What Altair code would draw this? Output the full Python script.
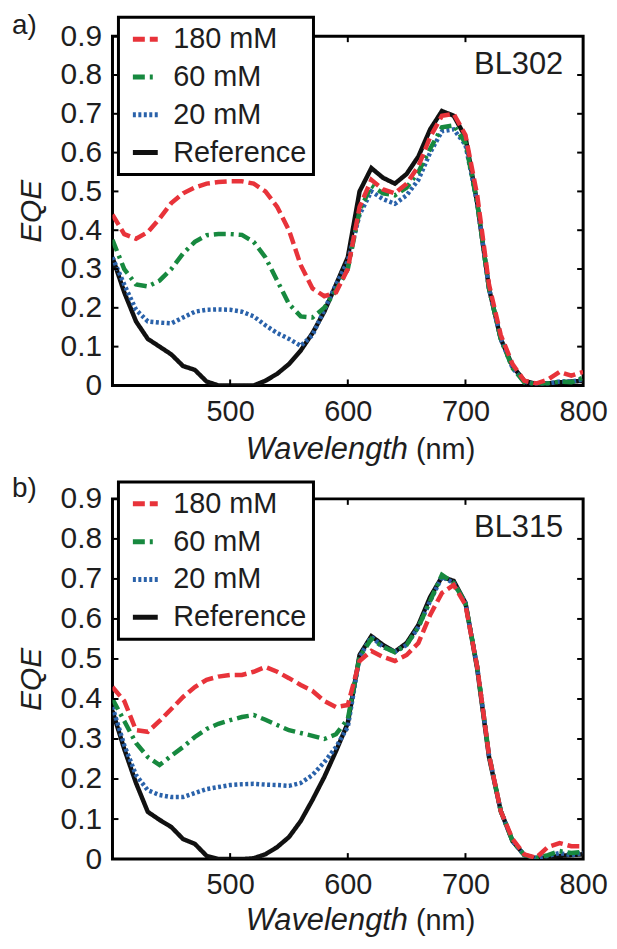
import altair as alt
import pandas as pd

# ---------------- data ----------------
wavelength = list(range(400, 801, 10))
series_order = ["180 mM", "60 mM", "20 mM", "Reference"]
draw_order = ["Reference", "20 mM", "60 mM", "180 mM"]
series_colors = ["#e8333a", "#17893f", "#2a62aa", "#111111"]
series_dash = [[12, 5], [12, 5, 3, 5], [3, 2.5], [1, 0]]

# panel a) BL302
a_180 = [0.44, 0.39, 0.378, 0.395, 0.43, 0.47, 0.495, 0.51, 0.52, 0.524, 0.526,
         0.526, 0.52, 0.50, 0.46, 0.40, 0.31, 0.25, 0.23, 0.24, 0.30,
         0.46, 0.53, 0.505, 0.495, 0.52, 0.565, 0.64, 0.695, 0.70, 0.645,
         0.49, 0.26, 0.13, 0.055, 0.012, 0.005, 0.015, 0.035, 0.025, 0.035]
a_60 = [0.375, 0.30, 0.26, 0.255, 0.27, 0.30, 0.34, 0.37, 0.387, 0.39, 0.39,
        0.388, 0.37, 0.33, 0.27, 0.21, 0.178, 0.175, 0.20, 0.245, 0.30,
        0.45, 0.515, 0.495, 0.49, 0.51, 0.55, 0.61, 0.665, 0.67, 0.625,
        0.47, 0.25, 0.12, 0.045, 0.008, 0.003, 0.005, 0.01, 0.008, 0.02]
a_20 = [0.33, 0.26, 0.195, 0.165, 0.162, 0.16, 0.175, 0.19, 0.195, 0.196, 0.195,
        0.19, 0.178, 0.155, 0.135, 0.12, 0.102, 0.13, 0.195, 0.26, 0.32,
        0.44, 0.50, 0.48, 0.468, 0.49, 0.53, 0.60, 0.655, 0.66, 0.62,
        0.47, 0.25, 0.12, 0.045, 0.01, 0.003, 0.005, 0.01, 0.01, 0.015]
a_ref = [0.33, 0.24, 0.165, 0.12, 0.10, 0.08, 0.05, 0.04, 0.01, 0.0, 0.0,
         0.0, 0.0, 0.012, 0.03, 0.055, 0.09, 0.135, 0.19, 0.26, 0.33,
         0.50, 0.56, 0.535, 0.52, 0.545, 0.59, 0.66, 0.707, 0.695, 0.64,
         0.47, 0.25, 0.12, 0.05, 0.012, 0.004, 0.005, 0.008, 0.01, 0.012]

# panel b) BL315
b_180 = [0.43, 0.395, 0.322, 0.318, 0.345, 0.375, 0.405, 0.43, 0.448, 0.456, 0.46,
         0.46, 0.468, 0.48, 0.468, 0.452, 0.435, 0.42, 0.395, 0.38, 0.385,
         0.495, 0.52, 0.505, 0.495, 0.51, 0.54, 0.61, 0.665, 0.685, 0.635,
         0.48, 0.26, 0.12, 0.05, 0.012, 0.003, 0.03, 0.04, 0.032, 0.032]
b_60 = [0.40, 0.345, 0.29, 0.255, 0.235, 0.258, 0.28, 0.305, 0.325, 0.338, 0.347,
        0.355, 0.36, 0.348, 0.335, 0.322, 0.315, 0.308, 0.30, 0.312, 0.35,
        0.505, 0.55, 0.53, 0.517, 0.535, 0.58, 0.645, 0.71, 0.69, 0.64,
        0.48, 0.26, 0.12, 0.045, 0.01, 0.003, 0.01, 0.02, 0.015, 0.018]
b_20 = [0.38, 0.285, 0.21, 0.172, 0.16, 0.155, 0.155, 0.165, 0.175, 0.18, 0.185,
        0.187, 0.188, 0.186, 0.185, 0.183, 0.19, 0.21, 0.242, 0.28, 0.33,
        0.505, 0.555, 0.53, 0.518, 0.535, 0.58, 0.645, 0.705, 0.69, 0.64,
        0.48, 0.26, 0.12, 0.045, 0.01, 0.003, 0.008, 0.015, 0.01, 0.015]
b_ref = [0.37, 0.275, 0.19, 0.118, 0.098, 0.08, 0.05, 0.038, 0.008, 0.0, 0.0,
         0.0, 0.002, 0.012, 0.03, 0.055, 0.095, 0.148, 0.205, 0.27, 0.34,
         0.51, 0.557, 0.535, 0.518, 0.54, 0.585, 0.655, 0.705, 0.695, 0.64,
         0.475, 0.255, 0.12, 0.045, 0.01, 0.002, 0.004, 0.008, 0.01, 0.012]

y_label_values = [0, 0.1, 0.2, 0.3, 0.4, 0.5, 0.6, 0.7, 0.8, 0.9]
x_label_values = [500, 600, 700, 800]
y_tick_values = [0.1, 0.2, 0.3, 0.4, 0.5, 0.6, 0.7, 0.8]
x_tick_values = [500, 600, 700]

FONT = "Liberation Sans"
TXT = "#1e1e1e"
W = 473


def long_df(series_dict):
    rows = []
    for name in draw_order:
        for wl, v in zip(wavelength, series_dict[name]):
            rows.append({"wl": wl, "eqe": v, "series": name})
    return pd.DataFrame(rows)


def xenc(field):
    return alt.X(f"{field}:Q",
                 scale=alt.Scale(domain=[400, 800], nice=False, zero=False),
                 axis=alt.Axis(values=x_label_values, title=None, labelPadding=12,
                               labelFontSize=29, labelFlush=False, labelOverlap=False))


def yenc(field):
    return alt.Y(f"{field}:Q",
                 scale=alt.Scale(domain=[0, 0.9], nice=False, zero=True),
                 axis=alt.Axis(values=y_label_values, title="EQE",
                               labelExpr="datum.value == 0 ? '0' : format(datum.value, '.1f')",
                               labelPadding=11, titlePadding=14, labelFlush=False,
                               labelOverlap=False, titleFontStyle="italic"))


def panel(series_dict, tag, name, H, title_off, legend_y):
    df = long_df(series_dict)
    lines = alt.Chart(df).mark_line(strokeWidth=4.5, clip=True).encode(
        x=xenc("wl"),
        y=yenc("eqe"),
        color=alt.Color("series:N",
                        scale=alt.Scale(domain=series_order, range=series_colors),
                        legend=alt.Legend(title=None, orient="none", legendX=6,
                                          legendY=legend_y,
                                          strokeColor="black", padding=7,
                                          symbolType="stroke", symbolSize=625,
                                          symbolStrokeWidth=5, symbolOffset=5,
                                          labelFontSize=29, labelFont=FONT,
                                          labelColor=TXT, labelOffset=13,
                                          labelExpr="datum.label + '  '",
                                          rowPadding=8, fillColor="white")),
        strokeDash=alt.StrokeDash("series:N",
                                  scale=alt.Scale(domain=series_order, range=series_dash),
                                  legend=alt.Legend(title=None, orient="none", legendX=6,
                                                    legendY=legend_y)),
    )

    ydf = pd.DataFrame({"v": y_tick_values})
    xdf = pd.DataFrame({"v": x_tick_values})
    left_ticks = alt.Chart(ydf).mark_rule(color="black", strokeWidth=2).encode(
        y=yenc("v"), x=alt.value(0), x2=alt.value(6))
    right_ticks = alt.Chart(ydf).mark_rule(color="black", strokeWidth=2).encode(
        y=yenc("v"), x=alt.value(W), x2=alt.value(W - 6))
    bottom_ticks = alt.Chart(xdf).mark_rule(color="black", strokeWidth=2).encode(
        x=xenc("v"), y=alt.value(H), y2=alt.value(H - 6))
    top_ticks = alt.Chart(xdf).mark_rule(color="black", strokeWidth=2).encode(
        x=xenc("v"), y=alt.value(0), y2=alt.value(6))

    lab = pd.DataFrame({"name": [name], "tag": [tag],
                        "t1": ["Wavelength"], "t2": ["(nm)"]})
    name_text = alt.Chart(lab).mark_text(align="right", baseline="alphabetic",
                                         fontSize=31, font=FONT, color=TXT).encode(
        x=alt.value(W - 20), y=alt.value(38), text="name:N")
    tag_text = alt.Chart(lab).mark_text(align="left", baseline="alphabetic",
                                        fontSize=28, font=FONT, color=TXT).encode(
        x=alt.value(-101), y=alt.value(-2), text="tag:N")
    xt1 = alt.Chart(lab).mark_text(align="right", baseline="alphabetic", fontSize=31,
                                   font=FONT, fontStyle="italic", color=TXT).encode(
        x=alt.value(297), y=alt.value(H + title_off), text="t1:N")
    xt2 = alt.Chart(lab).mark_text(align="left", baseline="alphabetic", fontSize=29,
                                   font=FONT, color=TXT).encode(
        x=alt.value(305), y=alt.value(H + title_off), text="t2:N")

    return alt.layer(lines, left_ticks, right_ticks, bottom_ticks, top_ticks,
                     name_text, tag_text, xt1, xt2).properties(width=W, height=H)


top = panel({"180 mM": a_180, "60 mM": a_60, "20 mM": a_20, "Reference": a_ref},
            "a)", "BL302", 351, 74, -19)
bottom = panel({"180 mM": b_180, "60 mM": b_60, "20 mM": b_20, "Reference": b_ref},
               "b)", "BL315", 362, 71, -17)

chart = alt.vconcat(top, bottom, spacing=6).resolve_scale(
    color="independent", strokeDash="independent"
).resolve_legend(color="independent", strokeDash="independent").properties(
    padding={"left": 2, "top": 0, "right": 0, "bottom": 0}
).configure_view(stroke="black", strokeWidth=3).configure_axis(
    domain=False, ticks=False, grid=False, labelFont=FONT, labelFontSize=30,
    labelColor=TXT, titleFont=FONT, titleFontSize=30, titleColor=TXT,
    titleFontWeight="normal"
).configure_legend(strokeWidth=3)

chart.save("out.html", embed_options={"renderer": "svg", "actions": False})
